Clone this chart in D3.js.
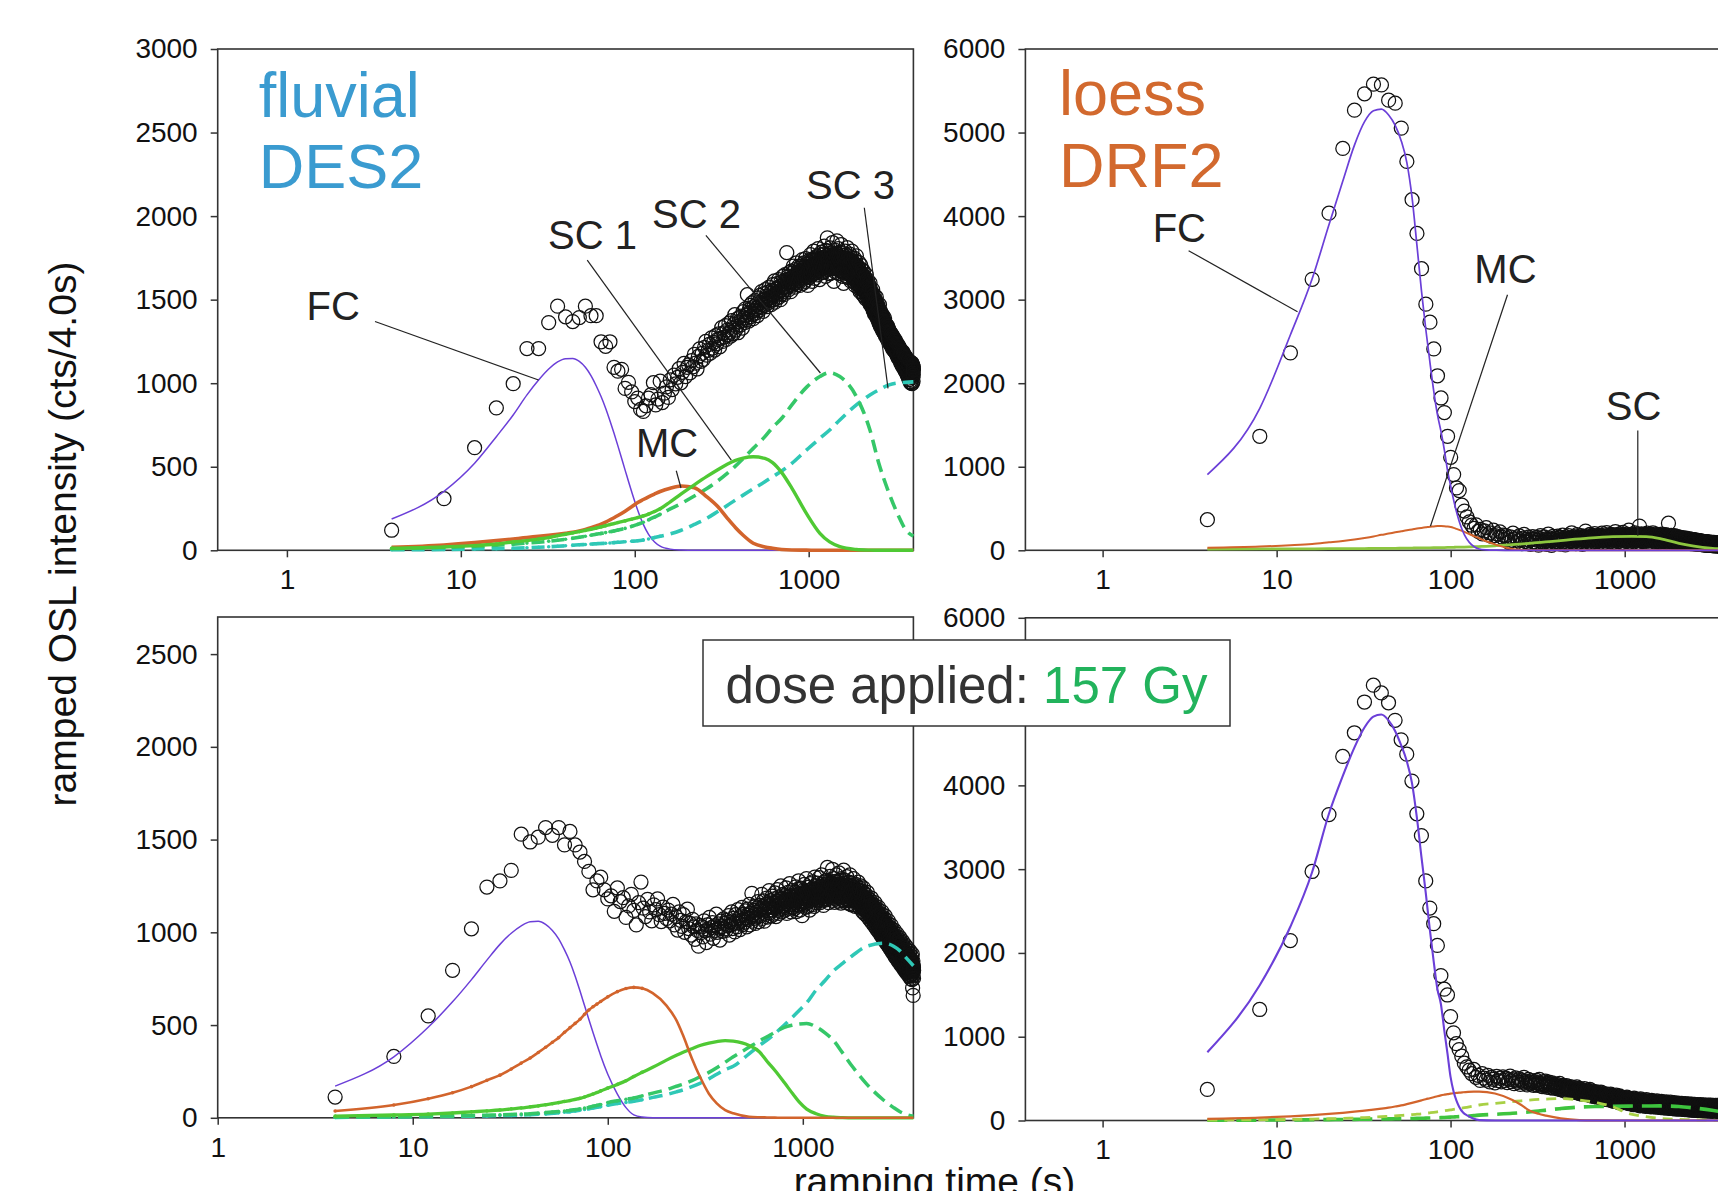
<!DOCTYPE html>
<html>
<head>
<meta charset="utf-8">
<script src="https://cdn.jsdelivr.net/npm/d3@7"></script>
<style>
  html, body { margin: 0; padding: 0; background: #fff; }
  svg { display: block; }
  text { font-family: "Liberation Sans", Arial, Helvetica, sans-serif; }
</style>
</head>
<body>
<svg id="chart" width="1718" height="1191"></svg>
<script>
// Ramped OSL: one count value per 4.0 s channel, channel n ends at n * 4.0 s
const CHANNEL_S = 4.0;

// ---- measured counts, fluvial DES2, natural ----
const desNatCounts = [
  120, 309, 614, 852, 997, 1207, 1207, 1363, 1461, 1397, 1369, 1393, 1461, 1404, 1404, 1248, 1221, 1248, 1095, 1072, 1083, 969, 1005, 948, 890,
  911, 843, 831, 865, 911, 931, 1003, 870, 905, 1012, 884, 940, 978, 915, 1020, 962, 1048, 996, 1035, 1087, 1002, 1065, 1118, 1040, 1095,
  1110, 1062, 1135, 1098, 1172, 1120, 1085, 1160, 1205, 1131, 1178, 1142, 1215, 1250, 1168, 1196, 1232, 1180, 1271, 1210, 1245, 1198, 1284, 1236, 1262,
  1295, 1218, 1270, 1332, 1250, 1301, 1276, 1345, 1262, 1318, 1290, 1360, 1305, 1282, 1374, 1328, 1296, 1352, 1410, 1318, 1340, 1385, 1302, 1366, 1392,
  1348, 1402, 1375, 1330, 1428, 1391, 1362, 1445, 1408, 1380, 1530, 1419, 1372, 1440, 1465, 1398, 1427, 1480, 1412, 1386, 1458, 1436, 1495, 1420, 1448,
  1472, 1405, 1510, 1458, 1436, 1525, 1480, 1452, 1548, 1470, 1495, 1430, 1536, 1502, 1466, 1560, 1490, 1518, 1458, 1542, 1505, 1482, 1575, 1512, 1496,
  1538, 1470, 1555, 1520, 1590, 1498, 1546, 1530, 1612, 1485, 1562, 1540, 1508, 1596, 1528, 1570, 1545, 1620, 1515, 1580, 1552, 1500, 1605, 1560, 1535,
  1588, 1548, 1640, 1572, 1530, 1615, 1596, 1650, 1562, 1605, 1580, 1782, 1620, 1575, 1638, 1602, 1560, 1662, 1590, 1625, 1610, 1548, 1670, 1604, 1632,
  1585, 1660, 1628, 1700, 1596, 1642, 1615, 1575, 1680, 1636, 1652, 1602, 1720, 1628, 1590, 1668, 1645, 1612, 1700, 1655, 1630, 1585, 1690, 1648, 1672,
  1615, 1702, 1660, 1635, 1740, 1648, 1598, 1688, 1672, 1720, 1630, 1695, 1662, 1610, 1745, 1680, 1655, 1712, 1640, 1690, 1668, 1585, 1730, 1676, 1650,
  1700, 1632, 1725, 1688, 1660, 1770, 1695, 1645, 1718, 1680, 1742, 1610, 1702, 1735, 1668, 1690, 1790, 1655, 1712, 1684, 1628, 1750, 1698, 1720, 1662,
  1738, 1675, 1702, 1760, 1648, 1725, 1690, 1805, 1712, 1670, 1748, 1695, 1730, 1620, 1768, 1705, 1684, 1742, 1716, 1660, 1785, 1722, 1698, 1750, 1690,
  1730, 1665, 1772, 1708, 1745, 1690, 1820, 1718, 1676, 1752, 1700, 1738, 1640, 1795, 1725, 1710, 1760, 1688, 1742, 1870, 1715, 1695, 1768, 1722, 1680,
  1748, 1700, 1775, 1655, 1730, 1712, 1810, 1740, 1685, 1760, 1722, 1698, 1782, 1735, 1660, 1755, 1718, 1842, 1705, 1745, 1690, 1768, 1728, 1610, 1752,
  1710, 1770, 1735, 1688, 1795, 1725, 1700, 1750, 1662, 1778, 1740, 1715, 1852, 1705, 1732, 1690, 1762, 1725, 1680, 1805, 1738, 1712, 1656, 1748, 1720,
  1695, 1760, 1728, 1672, 1785, 1712, 1740, 1690, 1830, 1705, 1668, 1752, 1720, 1698, 1775, 1640, 1735, 1710, 1765, 1688, 1722, 1598, 1748, 1705, 1730,
  1685, 1742, 1710, 1660, 1790, 1702, 1728, 1675, 1750, 1695, 1640, 1768, 1715, 1690, 1735, 1812, 1670, 1708, 1745, 1655, 1722, 1690, 1760, 1630, 1712,
  1695, 1740, 1662, 1718, 1680, 1772, 1650, 1705, 1688, 1735, 1612, 1698, 1752, 1670, 1725, 1645, 1690, 1790, 1660, 1708, 1678, 1730, 1628, 1692, 1715,
  1670, 1630, 1722, 1655, 1690, 1605, 1748, 1662, 1640, 1705, 1678, 1585, 1692, 1650, 1730, 1622, 1668, 1700, 1640, 1762, 1615, 1660, 1685, 1598, 1645,
  1672, 1618, 1650, 1700, 1590, 1635, 1662, 1570, 1688, 1625, 1640, 1722, 1600, 1655, 1582, 1630, 1675, 1610, 1548, 1662, 1620, 1645, 1595, 1705, 1612,
  1635, 1570, 1658, 1600, 1622, 1545, 1680, 1590, 1612, 1560, 1648, 1605, 1530, 1625, 1582, 1670, 1598, 1552, 1615, 1575, 1640, 1520, 1595, 1610, 1568,
  1602, 1555, 1630, 1570, 1540, 1612, 1585, 1505, 1595, 1562, 1648, 1538, 1578, 1600, 1520, 1565, 1590, 1545, 1620, 1508, 1572, 1552, 1598, 1530, 1560,
  1575, 1525, 1560, 1495, 1590, 1540, 1512, 1568, 1530, 1480, 1555, 1520, 1600, 1502, 1545, 1470, 1530, 1562, 1498, 1520, 1545, 1465, 1512, 1538, 1490,
  1525, 1478, 1540, 1500, 1455, 1518, 1490, 1560, 1468, 1505, 1440, 1495, 1520, 1462, 1485, 1430, 1508, 1475, 1450, 1528, 1462, 1415, 1488, 1470, 1442,
  1492, 1445, 1470, 1418, 1500, 1455, 1430, 1482, 1408, 1462, 1440, 1515, 1420, 1450, 1395, 1468, 1432, 1410, 1475, 1425, 1448, 1385, 1440, 1418, 1455,
  1410, 1462, 1395, 1430, 1372, 1448, 1415, 1390, 1440, 1360, 1422, 1405, 1470, 1378, 1412, 1395, 1352, 1425, 1388, 1410, 1340, 1402, 1430, 1375, 1398,
  1385, 1420, 1350, 1392, 1368, 1405, 1330, 1378, 1412, 1355, 1390, 1322, 1372, 1398, 1345, 1380, 1360, 1310, 1385, 1350, 1402, 1328, 1362, 1340, 1375,
  1350, 1318, 1372, 1335, 1300, 1355, 1340, 1388, 1312, 1345, 1295, 1330, 1362, 1305, 1340, 1320, 1280, 1348, 1315, 1335, 1290, 1325, 1350, 1302, 1318,
  1335, 1298, 1320, 1275, 1345, 1305, 1290, 1328, 1262, 1310, 1295, 1340, 1280, 1302, 1318, 1255, 1298, 1312, 1270, 1325, 1285, 1300, 1248, 1292, 1308,
  1280, 1312, 1260, 1295, 1242, 1285, 1270, 1305, 1250, 1275, 1290, 1232, 1268, 1282, 1245, 1300, 1258, 1272, 1225, 1265, 1285, 1240, 1262, 1278, 1235,
  1260, 1290, 1232, 1255, 1218, 1272, 1248, 1230, 1265, 1205, 1250, 1240, 1278, 1222, 1245, 1210, 1258, 1235, 1268, 1198, 1240, 1225, 1252, 1215, 1238,
  1228, 1255, 1205, 1240, 1218, 1190, 1245, 1225, 1260, 1198, 1230, 1212, 1185, 1238, 1220, 1250, 1195, 1225, 1208, 1240, 1178, 1215, 1232, 1200, 1222,
  1210, 1238, 1188, 1222, 1170, 1205, 1228, 1195, 1215, 1160, 1200, 1232, 1185, 1210, 1175, 1218, 1195, 1150, 1205, 1225, 1180, 1198, 1165, 1212, 1190,
  1205, 1170, 1195, 1215, 1150, 1188, 1172, 1210, 1160, 1195, 1140, 1182, 1205, 1165, 1190, 1130, 1178, 1198, 1155, 1185, 1168, 1120, 1175, 1192, 1160,
  1170, 1195, 1145, 1178, 1130, 1165, 1185, 1150, 1110, 1172, 1158, 1190, 1135, 1162, 1148, 1100, 1168, 1175, 1140, 1155, 1120, 1170, 1150, 1185, 1128,
  1150, 1175, 1120, 1160, 1138, 1095, 1155, 1142, 1170, 1110, 1145, 1128, 1085, 1150, 1165, 1118, 1140, 1100, 1152, 1130, 1075, 1138, 1160, 1112, 1135,
  1125, 1150, 1098, 1135, 1118, 1070, 1140, 1122, 1155, 1090, 1128, 1110, 1060, 1132, 1145, 1100, 1118, 1085, 1138, 1120, 1050, 1115, 1130, 1095, 1108,
  1122, 1140, 1080, 1115, 1100, 1045, 1128, 1110, 1135, 1070, 1118, 1095, 1030, 1112, 1125, 1085, 1105, 1060, 1120, 1098, 1022, 1108, 1115, 1078, 1095,
  1112, 1130, 1065, 1102, 1090, 1010, 1118, 1095, 1125, 1058, 1105, 1080, 1002, 1098, 1115, 1070, 1092, 1045, 1110, 1085, 1005, 1096, 1108, 1062, 1088,
  1100, 1122, 1052, 1095, 1078, 998, 1106, 1088, 1118, 1045, 1095, 1072, 1000, 1090, 1110, 1060, 1082, 1035, 1102, 1075, 1012, 1088, 1098, 1050, 1080
];

// ---- measured counts, loess DRF2, natural ----
const drfNatCounts = [
  366, 1365, 2363, 3243, 4035, 4810, 5268, 5464, 5579, 5570, 5387, 5351, 5053, 4654, 4196, 3793, 3371, 2946, 2730, 2410,
  2089, 1823, 1648, 1365, 1113, 906, 747, 715, 540, 470, 400, 340, 300,
  262, 305, 228, 250, 196, 232, 270, 185, 210, 168, 240, 175, 198, 145, 220, 160, 182,
  128, 175, 140, 96, 162, 118, 205, 135, 88, 150, 112, 172, 125, 80, 145, 190, 108, 132, 95, 158, 120, 70, 138, 165, 102,
  130, 92, 155, 118, 62, 140, 175, 105, 128, 85, 160, 112, 138, 72, 122, 195, 98, 145, 115, 60, 132, 168, 100, 125, 88,
  142, 110, 170, 95, 128, 155, 75, 138, 118, 182, 102, 148, 130, 65, 160, 122, 140, 92, 175, 115, 150, 105, 135, 210, 120,
  145, 98, 165, 128, 152, 80, 140, 188, 118, 132, 160, 95, 148, 125, 175, 108, 142, 70, 155, 135, 168, 112, 145, 230, 128,
  150, 118, 172, 135, 98, 160, 145, 190, 125, 152, 85, 165, 140, 178, 110, 148, 132, 200, 122, 158, 105, 170, 142, 128, 162,
  138, 175, 115, 155, 182, 98, 148, 165, 130, 205, 120, 158, 142, 88, 170, 152, 128, 185, 110, 160, 145, 212, 125, 168, 140,
  155, 118, 180, 142, 165, 100, 158, 192, 135, 150, 120, 175, 148, 162, 95, 155, 185, 130, 170, 145, 225, 112, 160, 138, 178,
  150, 128, 188, 142, 165, 105, 172, 155, 135, 198, 120, 160, 148, 180, 92, 158, 170, 132, 215, 145, 162, 118, 175, 152, 140,
  168, 125, 182, 150, 108, 162, 195, 138, 155, 172, 115, 160, 145, 240, 130, 175, 152, 98, 165, 185, 140, 158, 122, 178, 150,
  142, 170, 118, 188, 155, 132, 165, 102, 178, 150, 210, 138, 160, 125, 182, 148, 168, 112, 155, 195, 135, 172, 145, 120, 162,
  175, 138, 158, 290, 142, 170, 115, 185, 150, 128, 165, 198, 140, 160, 105, 178, 152, 135, 188, 145, 170, 118, 162, 150, 182,
  140, 165, 125, 192, 150, 172, 108, 160, 145, 180, 132, 205, 155, 122, 168, 148, 175, 112, 158, 140, 185, 130, 162, 150, 120,
  172, 138, 155, 195, 125, 160, 145, 178, 110, 152, 168, 135, 210, 142, 158, 120, 175, 148, 132, 165, 100, 155, 180, 140, 162,
  130, 170, 145, 118, 182, 152, 138, 165, 105, 158, 190, 135, 150, 122, 175, 145, 160, 98, 168, 140, 155, 128, 185, 148, 135,
  160, 122, 178, 140, 152, 110, 165, 145, 195, 130, 155, 118, 170, 142, 125, 162, 138, 180, 105, 150, 168, 132, 148, 120, 158,
  135, 172, 118, 150, 140, 188, 125, 155, 100, 145, 165, 130, 142, 112, 175, 138, 152, 122, 160, 135, 325, 115, 148, 140, 128,
  155, 120, 142, 170, 108, 138, 150, 125, 162, 115, 145, 180, 130, 140, 98, 155, 132, 168, 118, 148, 125, 140, 110, 158, 135,
  120, 150, 132, 105, 162, 128, 140, 115, 175, 122, 135, 95, 148, 130, 118, 158, 125, 140, 102, 150, 120, 135, 165, 112, 130,
  138, 110, 145, 125, 98, 150, 118, 132, 160, 105, 128, 140, 115, 125, 90, 148, 122, 135, 108, 155, 118, 130, 100, 142, 120,
  112, 135, 125, 95, 148, 118, 130, 102, 140, 115, 125, 88, 138, 120, 150, 108, 128, 115, 135, 98, 122, 145, 110, 125, 105,
  130, 112, 95, 140, 118, 125, 100, 135, 108, 122, 85, 130, 115, 145, 105, 120, 92, 128, 110, 138, 115, 98, 125, 108, 118,
  100, 125, 112, 90, 132, 105, 118, 82, 125, 110, 138, 98, 115, 105, 128, 88, 118, 100, 122, 95, 135, 108, 112, 80, 120,
  110, 95, 125, 102, 115, 88, 120, 100, 130, 92, 110, 118, 85, 105, 125, 98, 112, 78, 118, 102, 95, 128, 105, 90, 112,
  98, 115, 85, 108, 120, 92, 105, 80, 112, 100, 125, 88, 102, 95, 118, 75, 108, 98, 115, 90, 105, 120, 85, 100, 110,
  92, 105, 80, 115, 95, 100, 72, 108, 90, 118, 85, 98, 102, 78, 112, 95, 88, 105, 70, 100, 115, 90, 95, 82, 108,
  88, 100, 78, 110, 92, 95, 70, 102, 85, 112, 80, 95, 98, 72, 105, 90, 84, 100, 68, 95, 108, 85, 92, 76, 102,
  96, 85, 74, 105, 88, 66, 92, 98, 108, 82, 76, 90, 70, 95, 100, 86, 64, 80, 96, 92, 82, 104, 72, 88, 98,
  80, 92, 100, 70, 84, 62, 88, 95, 78, 104, 86, 72, 90, 66, 96, 60, 82, 76, 92, 88, 100, 78, 68, 84, 94,
  88, 78, 68, 96, 80, 85, 60, 75, 92, 100, 82, 70, 64, 88, 92, 80, 72, 58, 90, 85, 75, 96, 66, 80, 90,
  75, 92, 85, 65, 78, 58, 82, 88, 72, 96, 68, 80, 62, 84, 90, 76, 86, 70, 56, 82, 94, 64, 78, 72, 88,
  84, 72, 62, 90, 75, 80, 56, 70, 86, 94, 66, 78, 82, 60, 88, 74, 54, 68, 84, 80, 92, 76, 70, 62, 86,
  70, 88, 80, 60, 72, 54, 78, 84, 68, 90, 64, 75, 58, 80, 85, 72, 82, 66, 52, 78, 88, 60, 74, 68, 84,
  78, 68, 58, 85, 70, 75, 52, 65, 80, 88, 62, 72, 78, 56, 82, 70, 50, 64, 80, 75, 85, 72, 66, 58, 80,
  65, 82, 76, 56, 68, 50, 72, 78, 62, 85, 60, 70, 54, 75, 80, 68, 78, 62, 48, 72, 82, 56, 70, 64, 78,
  74, 62, 54, 80, 66, 70, 48, 60, 76, 82, 58, 68, 72, 52, 78, 66, 46, 60, 75, 70, 80, 68, 62, 54, 75,
  60, 78, 72, 52, 64, 46, 68, 74, 58, 80, 56, 66, 50, 70, 75, 64, 72, 58, 45, 68, 78, 52, 66, 60, 72,
  70, 58, 50, 75, 62, 66, 44, 56, 72, 78, 54, 64, 68, 48, 72, 62, 43, 56, 70, 66, 75, 64, 58, 50, 70,
  56, 68, 62, 48, 72, 42, 60, 70, 54, 75, 52, 62, 46, 66, 70, 60, 68, 54, 42, 64, 72, 48, 62, 56, 68
];

// ---- measured counts, fluvial DES2, after 157 Gy ----
const desDoseCounts = [
  112, 331, 549, 795, 1019, 1244, 1277, 1334, 1529, 1487, 1513, 1565, 1523, 1565, 1471, 1544, 1471, 1433, 1382, 1328, 1229, 1277, 1297, 1229, 1180,
  1197, 1113, 1239, 1166, 1187, 1080, 1142, 1205, 1118, 1040, 1160, 1271, 1130, 1085, 1178, 1110, 1062, 1148, 1122, 1180, 1095, 1058, 1136, 1102, 1075,
  1120, 1062, 1098, 1150, 1040, 1085, 1012, 1110, 1065, 1032, 1095, 1000, 1058, 1125, 1020, 1048, 985, 1070, 1030, 962, 1045, 1010, 925, 1038, 998,
  1030, 975, 1062, 1008, 945, 1040, 1015, 1080, 990, 1025, 1052, 968, 1035, 1010, 1098, 1000, 1045, 1022, 958, 1060, 1030, 1005, 1072, 1018, 1048,
  1010, 1065, 1035, 1090, 985, 1055, 1040, 1110, 1020, 1075, 1048, 1002, 1095, 1060, 1030, 1122, 1050, 1078, 1015, 1088, 1062, 1135, 1042, 1070, 1098,
  1055, 1115, 1080, 1030, 1125, 1092, 1068, 1150, 1040, 1102, 1085, 1210, 1060, 1120, 1095, 1075, 1140, 1048, 1108, 1130, 1082, 1165, 1098, 1058, 1120,
  1145, 1090, 1128, 1205, 1075, 1138, 1115, 1170, 1060, 1125, 1150, 1098, 1185, 1130, 1082, 1160, 1118, 1225, 1105, 1142, 1170, 1088, 1135, 1195, 1120,
  1155, 1098, 1180, 1130, 1212, 1145, 1085, 1170, 1140, 1230, 1118, 1165, 1190, 1102, 1150, 1175, 1125, 1250, 1160, 1110, 1185, 1140, 1205, 1130, 1168,
  1145, 1198, 1120, 1175, 1240, 1155, 1102, 1188, 1165, 1215, 1130, 1178, 1150, 1262, 1140, 1195, 1168, 1110, 1182, 1225, 1158, 1135, 1200, 1172, 1148,
  1190, 1128, 1215, 1162, 1245, 1175, 1112, 1198, 1170, 1232, 1150, 1185, 1278, 1142, 1208, 1165, 1120, 1195, 1238, 1172, 1155, 1212, 1090, 1188, 1168,
  1205, 1150, 1228, 1182, 1258, 1165, 1198, 1135, 1215, 1190, 1290, 1158, 1210, 1175, 1242, 1140, 1195, 1225, 1168, 1205, 1120, 1185, 1262, 1175, 1200,
  1230, 1168, 1215, 1188, 1272, 1150, 1205, 1240, 1178, 1225, 1140, 1210, 1298, 1185, 1232, 1195, 1160, 1250, 1205, 1222, 1172, 1265, 1198, 1215, 1185,
  1240, 1178, 1225, 1295, 1190, 1218, 1160, 1248, 1205, 1232, 1185, 1310, 1212, 1170, 1258, 1225, 1195, 1240, 1145, 1228, 1270, 1200, 1235, 1182, 1215,
  1250, 1195, 1232, 1280, 1175, 1225, 1245, 1205, 1350, 1218, 1190, 1262, 1232, 1160, 1240, 1275, 1210, 1228, 1185, 1302, 1222, 1248, 1198, 1235, 1265,
  1215, 1260, 1188, 1240, 1340, 1205, 1228, 1172, 1255, 1230, 1290, 1200, 1245, 1162, 1235, 1275, 1212, 1250, 1180, 1232, 1310, 1222, 1195, 1258, 1228,
  1245, 1198, 1270, 1215, 1235, 1168, 1252, 1320, 1210, 1240, 1185, 1262, 1225, 1195, 1280, 1232, 1158, 1248, 1218, 1290, 1205, 1238, 1175, 1255, 1222,
  1240, 1190, 1265, 1212, 1335, 1228, 1170, 1250, 1205, 1232, 1280, 1195, 1245, 1160, 1222, 1262, 1208, 1238, 1182, 1300, 1215, 1240, 1192, 1228, 1255,
  1210, 1248, 1175, 1232, 1198, 1270, 1215, 1155, 1240, 1205, 1310, 1188, 1225, 1170, 1252, 1212, 1195, 1235, 1148, 1220, 1265, 1200, 1228, 1182, 1210,
  1195, 1235, 1170, 1218, 1290, 1185, 1210, 1150, 1240, 1198, 1175, 1228, 1205, 1140, 1222, 1258, 1188, 1212, 1165, 1232, 1198, 1180, 1245, 1172, 1205,
  1215, 1160, 1198, 1232, 1175, 1270, 1185, 1140, 1205, 1178, 1225, 1152, 1195, 1240, 1168, 1185, 1130, 1210, 1172, 1250, 1160, 1192, 1145, 1205, 1178,
  1158, 1198, 1135, 1182, 1222, 1150, 1175, 1110, 1190, 1162, 1240, 1140, 1172, 1125, 1195, 1158, 1210, 1130, 1168, 1100, 1185, 1150, 1175, 1122, 1160,
  1140, 1182, 1115, 1158, 1200, 1128, 1150, 1090, 1172, 1138, 1215, 1118, 1148, 1100, 1165, 1132, 1180, 1105, 1140, 1075, 1155, 1125, 1145, 1095, 1130,
  1115, 1158, 1090, 1132, 1172, 1100, 1125, 1062, 1145, 1110, 1185, 1092, 1120, 1072, 1138, 1105, 1150, 1080, 1112, 1048, 1128, 1098, 1118, 1068, 1102,
  1090, 1132, 1065, 1108, 1148, 1075, 1098, 1035, 1120, 1085, 1160, 1065, 1095, 1042, 1110, 1078, 1125, 1052, 1088, 1020, 1100, 1070, 1092, 1040, 1078,
  1065, 1108, 1040, 1082, 1125, 1048, 1072, 1008, 1095, 1060, 1135, 1038, 1068, 1015, 1085, 1052, 1098, 1025, 1062, 995, 1075, 1045, 1065, 1012, 1050,
  1040, 1082, 1015, 1058, 1100, 1022, 1048, 980, 1070, 1035, 1112, 1010, 1042, 988, 1060, 1025, 1075, 998, 1035, 968, 1050, 1018, 1040, 985, 1025,
  1015, 1058, 990, 1032, 1075, 998, 1022, 955, 1045, 1010, 1088, 985, 1018, 962, 1035, 1000, 1050, 972, 1010, 942, 1025, 992, 1015, 960, 1000,
  990, 1032, 965, 1008, 1050, 972, 998, 930, 1020, 985, 1062, 960, 992, 938, 1010, 975, 1025, 948, 985, 918, 1000, 968, 990, 935, 975,
  965, 1008, 940, 982, 1025, 948, 972, 905, 995, 960, 1038, 935, 968, 912, 985, 950, 1000, 922, 960, 892, 975, 942, 965, 910, 950,
  940, 982, 915, 958, 1000, 922, 948, 880, 970, 935, 1012, 910, 942, 888, 960, 925, 975, 898, 935, 868, 950, 918, 940, 885, 925,
  920, 962, 895, 938, 980, 902, 928, 858, 950, 915, 992, 888, 922, 865, 940, 905, 955, 875, 915, 845, 930, 898, 920, 862, 905,
  900, 942, 875, 918, 960, 882, 908, 838, 930, 895, 972, 868, 902, 845, 920, 885, 935, 855, 895, 825, 910, 878, 900, 842, 885,
  880, 922, 855, 898, 940, 862, 888, 818, 910, 875, 952, 848, 882, 825, 900, 865, 915, 835, 875, 805, 890, 858, 880, 822, 865,
  860, 902, 835, 878, 920, 842, 868, 798, 890, 855, 932, 828, 862, 805, 880, 845, 895, 815, 855, 785, 870, 838, 860, 802, 845,
  842, 885, 818, 860, 902, 825, 850, 780, 872, 838, 915, 810, 845, 788, 862, 828, 878, 798, 838, 768, 852, 820, 842, 785, 828,
  825, 868, 800, 842, 885, 808, 832, 762, 855, 820, 898, 792, 828, 770, 845, 810, 860, 780, 820, 750, 835, 802, 825, 768, 810,
  808, 850, 785, 826, 870, 792, 815, 745, 838, 805, 882, 776, 812, 700, 828, 795, 845, 765, 805, 660, 820, 788, 810, 752, 795
];

// ---- measured counts, loess DRF2, after 157 Gy ----
const drfDoseCounts = [
  371, 1325, 2148, 2972, 3651, 4345, 4628, 4995, 5196, 5103, 4986, 4777, 4544, 4372, 4051, 3661, 3401, 2860, 2535, 2349,
  2089, 1730, 1567, 1498, 1241, 1047, 917, 846, 767, 684, 640,
  600, 560, 610, 515, 540, 478, 560, 505, 482, 540, 460, 515, 492, 448, 528, 475, 505, 462, 520,
  478, 505, 452, 492, 530, 465, 488, 440, 510, 472, 455, 498, 430, 482, 462, 515, 445, 470, 425, 490, 458, 438, 475, 452, 420,
  465, 430, 478, 418, 450, 492, 425, 440, 405, 462, 432, 415, 470, 398, 445, 425, 458, 392, 435, 410, 448, 385, 428, 402, 420,
  395, 432, 378, 410, 385, 442, 368, 400, 382, 418, 360, 392, 405, 350, 385, 415, 372, 398, 345, 388, 370, 405, 355, 380, 362,
  375, 348, 392, 360, 335, 378, 352, 400, 330, 365, 345, 382, 322, 358, 340, 372, 315, 350, 362, 328, 345, 380, 318, 342, 335,
  350, 315, 362, 328, 305, 345, 320, 372, 298, 335, 312, 355, 290, 325, 340, 302, 330, 285, 318, 345, 295, 322, 308, 280, 312,
  320, 288, 335, 295, 275, 312, 298, 340, 268, 305, 282, 322, 262, 295, 310, 275, 300, 255, 290, 318, 270, 292, 278, 250, 285,
  262, 295, 308, 250, 272, 288, 245, 315, 268, 280, 238, 298, 258, 270, 232, 285, 252, 292, 265, 228, 275, 248, 260, 302, 255,
  248, 275, 232, 290, 255, 242, 268, 212, 295, 225, 260, 240, 278, 218, 250, 265, 232, 255, 212, 245, 272, 228, 248, 235, 240,
  255, 225, 238, 272, 215, 250, 232, 280, 210, 245, 225, 262, 205, 235, 250, 218, 240, 200, 230, 258, 215, 235, 222, 198, 228,
  212, 242, 260, 225, 205, 238, 188, 220, 268, 198, 232, 212, 250, 192, 222, 238, 205, 228, 218, 245, 202, 222, 210, 185, 215,
  230, 200, 195, 248, 215, 228, 175, 210, 258, 188, 222, 202, 240, 182, 212, 228, 195, 218, 178, 208, 235, 192, 212, 200, 205,
  220, 192, 238, 168, 205, 185, 218, 200, 248, 180, 212, 195, 230, 175, 202, 218, 188, 210, 170, 200, 228, 185, 205, 192, 198,
  185, 212, 230, 198, 162, 210, 192, 240, 172, 205, 188, 222, 168, 195, 210, 180, 202, 165, 192, 220, 178, 198, 185, 178, 192,
  205, 178, 160, 225, 192, 172, 205, 186, 235, 168, 198, 182, 215, 162, 190, 205, 175, 196, 186, 215, 172, 192, 180, 158, 186,
  172, 200, 218, 186, 155, 198, 180, 228, 162, 192, 176, 210, 158, 184, 200, 170, 190, 168, 180, 210, 152, 186, 175, 195, 180,
  195, 168, 150, 212, 180, 162, 192, 175, 222, 158, 186, 170, 205, 152, 178, 195, 165, 185, 175, 205, 162, 180, 148, 170, 175,
  162, 190, 208, 175, 158, 188, 145, 170, 218, 152, 182, 165, 200, 148, 172, 190, 160, 180, 170, 200, 158, 175, 165, 142, 170,
  185, 158, 170, 202, 152, 182, 166, 212, 140, 148, 178, 160, 195, 145, 168, 185, 155, 176, 166, 195, 152, 170, 160, 138, 166,
  155, 182, 198, 166, 150, 178, 135, 162, 208, 145, 175, 158, 192, 142, 165, 182, 152, 172, 162, 192, 150, 166, 158, 138, 162,
  178, 152, 162, 195, 146, 175, 158, 205, 135, 142, 170, 155, 188, 138, 162, 178, 148, 168, 158, 188, 146, 162, 155, 132, 160,
  150, 176, 192, 160, 144, 172, 130, 156, 202, 140, 168, 152, 185, 136, 160, 176, 146, 166, 156, 185, 144, 160, 152, 130, 158,
  172, 148, 158, 188, 140, 170, 152, 198, 128, 138, 165, 150, 182, 132, 156, 172, 144, 162, 152, 182, 140, 156, 150, 128, 155,
  145, 170, 186, 154, 138, 168, 125, 150, 195, 135, 162, 148, 180, 130, 154, 170, 142, 160, 150, 180, 138, 154, 148, 125, 152,
  168, 142, 150, 184, 136, 165, 148, 192, 122, 132, 160, 145, 178, 128, 152, 168, 140, 158, 148, 178, 136, 152, 145, 122, 150,
  140, 166, 182, 150, 135, 162, 120, 146, 190, 130, 158, 142, 176, 126, 150, 166, 138, 156, 146, 176, 134, 150, 142, 120, 148,
  165, 138, 148, 180, 133, 160, 145, 188, 118, 128, 156, 140, 175, 124, 148, 165, 136, 155, 145, 175, 132, 148, 140, 118, 147,
  136, 163, 178, 146, 131, 158, 116, 143, 186, 126, 154, 138, 173, 122, 146, 163, 134, 153, 143, 173, 130, 146, 138, 116, 145,
  162, 135, 145, 177, 130, 157, 142, 185, 115, 125, 153, 137, 172, 121, 145, 162, 133, 152, 142, 172, 129, 145, 137, 115, 144,
  134, 161, 176, 144, 129, 156, 114, 141, 184, 124, 152, 136, 171, 120, 144, 161, 132, 151, 141, 171, 128, 144, 136, 114, 143,
  160, 133, 143, 175, 128, 155, 140, 183, 113, 123, 151, 135, 170, 119, 143, 160, 131, 150, 140, 170, 127, 143, 135, 113, 142,
  132, 159, 174, 142, 127, 154, 112, 139, 182, 122, 150, 134, 169, 118, 142, 159, 130, 149, 139, 169, 126, 142, 134, 112, 141,
  158, 131, 141, 173, 126, 153, 138, 181, 111, 121, 149, 133, 168, 117, 141, 158, 129, 148, 138, 168, 125, 141, 133, 111, 140,
  130, 157, 172, 140, 125, 152, 110, 137, 180, 120, 148, 132, 167, 116, 140, 157, 128, 147, 137, 167, 124, 140, 132, 110, 139,
  156, 129, 139, 171, 124, 151, 136, 179, 109, 119, 147, 131, 166, 115, 139, 156, 127, 146, 136, 166, 123, 139, 131, 109, 138,
  128, 155, 170, 138, 123, 150, 108, 135, 178, 118, 146, 130, 165, 114, 138, 155, 126, 145, 135, 165, 122, 138, 130, 108, 137,
  154, 127, 137, 169, 122, 149, 134, 177, 107, 117, 145, 129, 164, 113, 137, 154, 125, 144, 134, 164, 121, 137, 129, 107, 136,
  126, 153, 168, 136, 121, 148, 106, 133, 176, 116, 144, 128, 163, 112, 136, 153, 124, 143, 133, 163, 120, 136, 128, 106, 135,
  152, 125, 135, 167, 120, 147, 132, 175, 105, 115, 143, 127, 162, 111, 135, 152, 123, 142, 132, 162, 119, 135, 127, 105, 134
];

// ---- fitted components (cts/4.0s), each aligned with its panel's fit-time grid (s) ----
const desNatFitTime = [4,8,12,16,20,24,28,32,36,40,44,48,52,56,60,64,68,72,76,80,88,96,104,112,120,130,140,160,185,220,260,300,340,380,420,480,560,620,700,800,970,1160,1320,1510,1880,2250,2530,2900,3300,3600,4000];
const desNatFC  = [187,353,521,680,810,930,1019,1085,1128,1147,1148,1130,1095,1045,985,920,850,775,700,625,480,350,240,155,95,50,25,7,2,0,0,0,0,0,0,0,0,0,0,0,0,0,0,0,0,0,0,0,0,0,0];
const desNatMC  = [18,32,46,58,68,76,84,90,96,102,108,116,125,135,146,157,169,182,195,208,234,260,286,304,320,337,352,372,385,375,320,262,193,135,90,42,20,12,5,2,1,0,0,0,0,0,0,0,0,0,0];
const desNatSC1 = [12,20,28,38,50,58,67,76,88,96,104,112,119,126,133,140,147,154,160,166,176,186,196,206,217,232,248,290,338,392,442,482,515,538,552,560,550,525,465,372,221,102,50,22,5,1,0,0,0,0,0];
const desNatSC2 = [10,17,24,30,37,43,48,54,60,66,72,78,84,90,96,101,106,111,116,121,131,143,155,168,182,199,215,248,280,325,370,415,460,505,550,610,680,735,790,870,975,1040,1063,1040,920,720,521,341,201,125,85];
const desNatSC3 = [3,5,8,10,12,15,18,21,24,27,30,33,35,37,39,41,42,44,46,48,51,54,57,62,68,76,84,98,120,155,192,232,268,302,330,368,410,440,475,520,600,670,720,780,870,930,960,990,1002,1005,1008];

const drfNatFitTime = [4,8,12,16,20,24,28,32,36,40,44,48,52,56,60,64,68,72,76,80,84,88,92,96,100,104,108,112,116,120,128,136,144,160,183,205,225,260,300,400,460,600,855,1100,1330,1600,2050,2500,3200,3600];
const drfNatFC = [907,1700,2580,3250,3900,4420,4850,5130,5260,5280,5210,5085,4900,4640,4220,3650,3100,2640,2250,1900,1620,1420,1200,950,770,600,460,345,255,185,95,45,18,4,1,0,0,0,0,0,0,0,0,0,0,0,0,0,0,0];
const drfNatMC = [30,45,60,75,95,112,130,148,166,185,200,215,228,240,250,260,268,275,282,286,290,290,288,284,278,268,256,244,232,220,195,170,148,108,65,35,15,5,1,0,0,0,0,0,0,0,0,0,0,0];
const drfNatSC = [15,16,17,18,19,19,20,21,22,23,24,24,25,26,27,28,28,29,30,31,32,32,33,34,35,36,37,37,38,39,41,43,45,48,55,62,68,77,88,110,123,143,163,167,163,140,84,50,24,16];

const desDoseFitTime = [4,8,12,16,20,24,28,32,36,40,44,48,52,56,60,64,68,72,76,80,84,88,92,100,112,124,136,150,170,200,225,242,270,297,330,362,400,440,530,600,655,720,804,890,960,1047,1170,1300,1430,1600,1800,2110,2590,2920,3150,3390,3690];
const desDoseFC  = [171,329,488,625,745,850,935,995,1035,1057,1060,1043,1010,965,905,840,765,685,605,530,460,395,335,235,128,55,16,4,0,0,0,0,0,0,0,0,0,0,0,0,0,0,0,0,0,0,0,0,0,0,0,0,0,0,0,0,0];
const desDoseMC  = [37,69,103,135,168,202,230,263,295,322,352,380,407,432,461,486,509,531,558,581,599,613,627,652,680,697,703,698,672,605,525,450,320,221,130,78,42,24,6,3,2,1,0,0,0,0,0,0,0,0,0,0,0,0,0,0,0];
const desDoseSC1 = [9,15,20,26,32,37,42,48,53,59,64,70,76,82,88,93,99,105,112,120,128,136,145,160,180,200,223,245,272,311,337,352,372,390,403,411,416,413,390,355,305,255,190,128,84,47,22,8,3,1,0,0,0,0,0,0,0];
const desDoseSC2 = [4,6,8,10,12,14,16,18,20,22,25,28,31,34,37,40,44,48,52,56,62,67,72,82,92,100,107,118,133,152,170,180,200,221,245,270,300,329,380,415,437,462,488,500,506,509,490,458,419,350,275,186,96,55,33,18,8];
const desDoseSC3 = [2,4,6,7,9,10,12,13,15,17,19,21,24,27,30,33,37,41,45,49,53,57,60,68,77,83,89,97,110,125,140,150,168,186,210,235,260,278,345,390,419,455,500,545,580,620,689,740,790,833,875,923,941,925,900,862,820];

const drfDoseFitTime = [4,8,12,16,20,24,28,32,36,40,44,48,52,56,60,64,68,72,76,80,84,88,92,96,100,104,108,112,118,126,136,146,180,227,255,280,320,354,430,550,700,852,1050,1320,1600,1850,2050,2500,3180,3590];
const drfDoseFC  = [814,1614,2312,2963,3661,4110,4451,4690,4820,4845,4775,4650,4480,4290,4030,3620,3150,2720,2280,1900,1570,1390,1080,800,520,350,240,165,95,55,20,5,0,0,0,0,0,0,0,0,0,0,0,0,0,0,0,0,0,0];
const drfDoseMC  = [20,35,50,64,78,92,105,118,130,142,154,167,180,195,210,225,240,254,266,278,290,300,308,315,320,325,329,333,337,341,344,345,322,245,185,125,80,58,25,5,1,0,0,0,0,0,0,0,0,0];
const drfDoseSC1 = [5,9,13,17,21,25,30,35,40,45,50,55,60,65,70,75,80,86,92,98,104,110,116,122,128,133,138,143,150,160,172,185,205,225,235,243,252,256,262,245,210,165,86,46,25,17,14,7,3,2];
const drfDoseSC2 = [3,5,7,9,11,12,14,15,17,18,19,20,21,23,24,25,27,28,30,31,33,34,36,38,40,42,44,46,49,53,58,64,74,86,94,101,112,124,142,160,167,170,172,173,174,172,168,150,122,105];

// ---- axis ticks ----
const timeTicks = [1, 10, 100, 1000];
const desNatTicks = [0, 500, 1000, 1500, 2000, 2500, 3000];
const desDoseTicks = [0, 500, 1000, 1500, 2000, 2500];
const drfNatTicks = [0, 1000, 2000, 3000, 4000, 5000, 6000];
// the 5000 tick of the lower loess panel sits under the dose box
const drfDoseTicks = [0, 1000, 2000, 3000, 4000, 6000];

// ---- component labels: text anchor and leader line, in (time s, counts) ----
const desNatNotes = [
  { text: "FC",   at: [1.296, 1381], from: [3.21, 1369],  to: [27.98, 1019] },
  { text: "SC 1", at: [31.7, 1804],  from: [53.3, 1736],  to: [359, 540] },
  { text: "SC 2", at: [125.8, 1931], from: [256.4, 1885], to: [1168, 1061] },
  { text: "SC 3", at: [966, 2103],   from: [2088, 2050],  to: [2858, 969] },
  { text: "MC",   at: [101.7, 557],  from: [173.2, 476],  to: [184.4, 373] }
];
const drfNatNotes = [
  { text: "FC", at: [1.94, 3692],  from: [3.12, 3586],  to: [13.18, 2854] },
  { text: "MC", at: [136.8, 3197], from: [212.1, 3059], to: [76.5, 288] },
  { text: "SC", at: [778, 1557],   from: [1189, 1434],  to: [1189, 174] }
];

const doseLabel = "dose applied: ";
const doseValue = "157 Gy";

// ---- styling ----
const C = {
  fc: "#6b3fd8", mc: "#d2642c", sc1: "#4fc934", sc2: "#35c768", sc3: "#2fc8b6",
  scY: "#8cc63f", scLight: "#a8d045", scGreen: "#3ec43e",
  ink: "#111", label: "#222", frame: "#333",
  blue: "#3a9bd0", orange: "#d2692e", dose: "#22b35c"
};

const panels = [
  {
    box: { x: 217.7, y: 49, w: 695.7, h: 501.3 }, tDomain: [0.4, 4000], yMax: 3000, yTicks: desNatTicks,
    counts: desNatCounts, fitTime: desNatFitTime,
    fits: [
      { v: desNatFC,  color: C.fc,  w: 1.5 },
      { v: desNatSC3, color: C.sc3, w: 3.6, dash: "13,7", marks: true },
      { v: desNatSC2, color: C.sc2, w: 3.6, dash: "13,7", marks: true },
      { v: desNatMC,  color: C.mc,  w: 3.6 },
      { v: desNatSC1, color: C.sc1, w: 3.4, marks: true }
    ],
    title: { lines: ["fluvial", "DES2"], color: C.blue, dx: 41, base: [67.7, 139] },
    notes: desNatNotes
  },
  {
    box: { x: 1025.4, y: 49, w: 695.7, h: 501.3 }, tDomain: [0.36, 3580], yMax: 6000, yTicks: drfNatTicks,
    counts: drfNatCounts, fitTime: drfNatFitTime,
    fits: [
      { v: drfNatSC, color: C.scY, w: 2.8 },
      { v: drfNatMC, color: C.mc,  w: 2 },
      { v: drfNatFC, color: C.fc,  w: 1.7 }
    ],
    title: { lines: ["loess", "DRF2"], color: C.orange, dx: 33.6, base: [65.8, 137.8] },
    notes: drfNatNotes
  },
  {
    box: { x: 217.7, y: 617, w: 695.7, h: 500.8 }, tDomain: [1, 3690], yMax: 2700, yTicks: desDoseTicks,
    counts: desDoseCounts, fitTime: desDoseFitTime,
    fits: [
      { v: desDoseFC,  color: C.fc,  w: 1.5 },
      { v: desDoseSC3, color: C.sc3, w: 3.5, dash: "14,7", marks: true },
      { v: desDoseSC2, color: C.sc2, w: 3.5, dash: "14,7", marks: true },
      { v: desDoseSC1, color: C.sc1, w: 3.3, marks: true },
      { v: desDoseMC,  color: C.mc,  w: 2.6, marks: true }
    ],
    notes: []
  },
  {
    box: { x: 1025.4, y: 617.8, w: 695.7, h: 502.7 }, tDomain: [0.36, 3590], yMax: 6000, yTicks: drfDoseTicks,
    counts: drfDoseCounts, fitTime: drfDoseFitTime,
    fits: [
      { v: drfDoseSC2, color: C.scGreen, w: 3.6, dash: "20,9" },
      { v: drfDoseSC1, color: C.scLight, w: 2.8, dash: "10,7" },
      { v: drfDoseMC,  color: C.mc, w: 2.2 },
      { v: drfDoseFC,  color: C.fc, w: 2.1 }
    ],
    notes: []
  }
];

const svg = d3.select("#chart");
svg.append("rect").attr("width", 1718).attr("height", 1191).attr("fill", "#fff");

panels.forEach(p => {
  const b = p.box;
  const x = d3.scaleLog().domain(p.tDomain).range([b.x, b.x + b.w]);
  const y = d3.scaleLinear().domain([0, p.yMax]).range([b.y + b.h, b.y]);
  const g = svg.append("g");

  // axes
  const yAxis = d3.axisLeft(y).tickValues(p.yTicks).tickSize(7).tickPadding(13).tickFormat(d3.format("d"));
  const xAxis = d3.axisBottom(x).tickValues(timeTicks).tickSize(7).tickPadding(12).tickFormat(d3.format("d"));
  const ya = g.append("g").attr("transform", `translate(${b.x},0)`).call(yAxis);
  const xa = g.append("g").attr("transform", `translate(0,${b.y + b.h})`).call(xAxis);
  [ya, xa].forEach(a => {
    a.select(".domain").remove();
    a.selectAll(".tick line").attr("stroke", C.frame).attr("stroke-width", 1.5);
    a.selectAll(".tick text").attr("fill", C.ink).style("font-size", "28px")
      .style("font-family", '"Liberation Sans", Arial, sans-serif');
  });

  // frame
  g.append("rect").attr("x", b.x).attr("y", b.y).attr("width", b.w).attr("height", b.h)
    .attr("fill", "none").attr("stroke", C.frame).attr("stroke-width", 1.6);

  // measured channels
  g.append("g").selectAll("circle").data(p.counts).join("circle")
    .attr("cx", (d, i) => x(CHANNEL_S * (i + 1)))
    .attr("cy", d => y(d))
    .attr("r", 7)
    .attr("fill", "none")
    .attr("stroke", "#111")
    .attr("stroke-width", 1.25);

  // fitted components
  const line = d3.line().x(d => x(d[0])).y(d => y(d[1])).curve(d3.curveMonotoneX);
  p.fits.forEach(f => {
    const pts = p.fitTime.map((t, i) => [t, f.v[i]]);
    g.append("path").attr("d", line(pts)).attr("fill", "none")
      .attr("stroke", f.color).attr("stroke-width", f.w)
      .attr("stroke-dasharray", f.dash || null)
      .attr("stroke-linejoin", "round");
    if (f.marks) {
      g.append("g").selectAll("circle").data(pts.filter(d => d[0] <= 150)).join("circle")
        .attr("cx", d => x(d[0])).attr("cy", d => y(d[1])).attr("r", 1.8)
        .attr("fill", f.color);
    }
  });

  // component labels with leader lines
  p.notes.forEach(n => {
    g.append("line")
      .attr("x1", x(n.from[0])).attr("y1", y(n.from[1]))
      .attr("x2", x(n.to[0])).attr("y2", y(n.to[1]))
      .attr("stroke", C.label).attr("stroke-width", 1.2);
    g.append("text").attr("x", x(n.at[0])).attr("y", y(n.at[1]))
      .attr("fill", C.label).style("font-size", "40px").text(n.text);
  });

  // sample title
  if (p.title) {
    p.title.lines.forEach((s, i) => {
      g.append("text").attr("x", b.x + p.title.dx).attr("y", b.y + p.title.base[i])
        .attr("fill", p.title.color).style("font-size", "63px").text(s);
    });
  }
});

// axis titles
svg.append("text")
  .attr("transform", "translate(76,534) rotate(-90)")
  .attr("text-anchor", "middle").attr("fill", C.ink).style("font-size", "39px")
  .text("ramped OSL intensity (cts/4.0s)");
svg.append("text")
  .attr("x", 934.5).attr("y", 1195)
  .attr("text-anchor", "middle").attr("fill", C.ink).style("font-size", "39px")
  .text("ramping time (s)");

// dose box across the lower panels
const box = svg.append("g");
box.append("rect").attr("x", 703).attr("y", 640).attr("width", 527).attr("height", 86)
  .attr("fill", "#fff").attr("stroke", C.frame).attr("stroke-width", 1.5);
const dt = box.append("text").attr("x", 966.5).attr("y", 702.5)
  .attr("text-anchor", "middle").style("font-size", "51px");
dt.append("tspan").attr("fill", "#333").text(doseLabel);
dt.append("tspan").attr("fill", C.dose).text(doseValue);
</script>
</body>
</html>
